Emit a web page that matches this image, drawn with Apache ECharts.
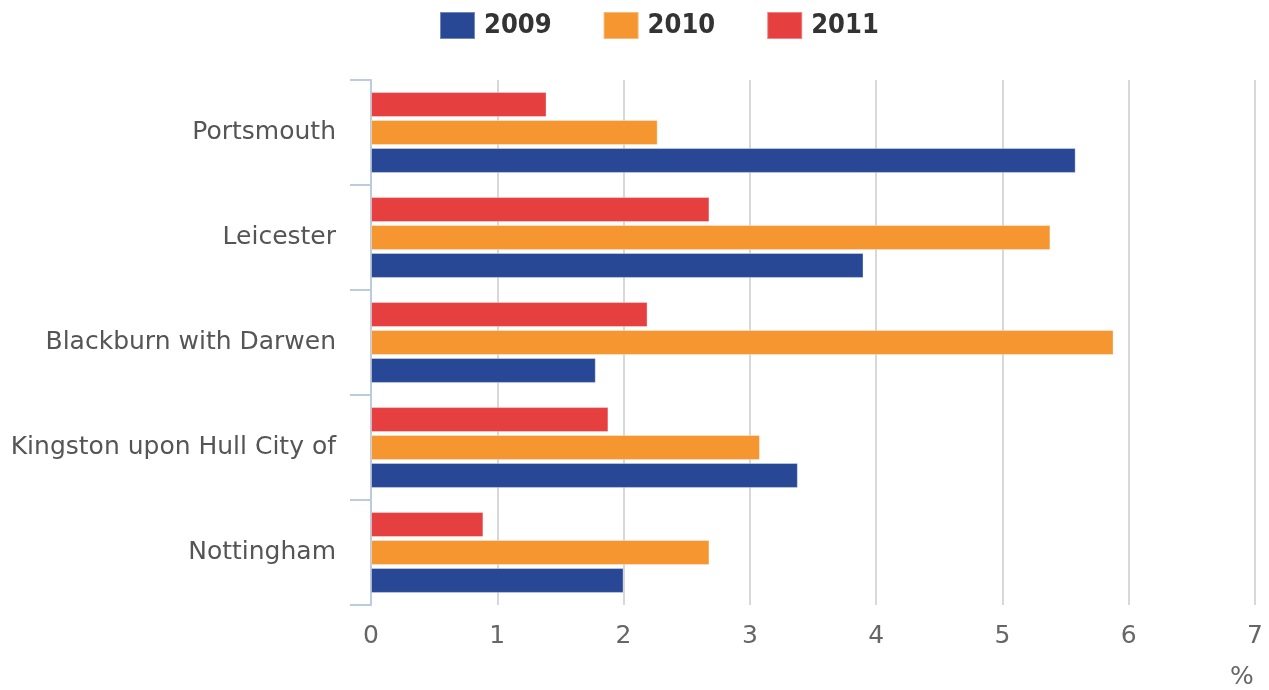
<!DOCTYPE html>
<html>
<head>
<meta charset="utf-8">
<script src="https://cdn.jsdelivr.net/npm/echarts@6/dist/echarts.min.js"></script>
<style>
  html, body { margin: 0; padding: 0; background: #fff; }
  #chart { width: 1269px; height: 690px; }
</style>
</head>
<body>
<div id="chart"></div>
<script>
// Local authorities, listed bottom-to-top as the category axis draws them
const areas = ['Nottingham', 'Kingston upon Hull City of', 'Blackburn with Darwen', 'Leicester', 'Portsmouth'];
const years = ['2009', '2010', '2011'];
// Percentages per year, in the same order as `areas`
const values2009 = [2.0, 3.38, 1.78, 3.9, 5.58];
const values2010 = [2.68, 3.08, 5.88, 5.38, 2.27];
const values2011 = [0.89, 1.88, 2.19, 2.68, 1.39];
const xTicks = { min: 0, max: 7, step: 1 };
const colors = { '2009': '#284896', '2010': '#f59630', '2011': '#e63f40' };

const font = 'DejaVu Sans, sans-serif';
const chart = echarts.init(document.getElementById('chart'), null, { renderer: 'canvas' });

const valuesByYear = { '2009': values2009, '2010': values2010, '2011': values2011 };
// Within each group the latest year sits on top, so series are added newest first
const drawOrder = ['2011', '2010', '2009'];

// Gridline at zero is darker than the rest
const gridColors = ['#7d7d7d', '#d8d8d8', '#d8d8d8', '#d8d8d8', '#d8d8d8', '#d8d8d8', '#d8d8d8', '#d8d8d8'];

chart.setOption({
  animation: false,
  textStyle: { fontFamily: font },
  legend: {
    data: years,
    left: 434,
    top: 6,
    itemWidth: 35,
    itemHeight: 27,
    itemGap: 51,
    icon: 'rect',
    textStyle: {
      fontFamily: '"DejaVu Sans Condensed", "DejaVu Sans", sans-serif',
      fontSize: 27, fontWeight: 'bold', color: '#333', padding: [0, 0, 0, 4]
    }
  },
  grid: { left: 371, right: 14, top: 80, bottom: 85, containLabel: false },
  xAxis: {
    type: 'value',
    min: xTicks.min,
    max: xTicks.max,
    interval: xTicks.step,
    axisLine: { show: false },
    axisTick: { show: false },
    splitLine: { show: true, lineStyle: { color: gridColors, width: 2 } },
    axisLabel: { fontFamily: font, fontSize: 25, color: '#666', margin: 19 }
  },
  yAxis: {
    type: 'category',
    data: areas,
    offset: 2,
    axisLine: { show: true, lineStyle: { color: '#bccbde', width: 2 } },
    axisTick: { show: true, length: 21, lineStyle: { color: '#bccbde', width: 2 } },
    axisLabel: { fontFamily: font, fontSize: 25, color: '#555', margin: 33 }
  },
  graphic: [{
    type: 'text',
    left: 1230,
    top: 665,
    style: { text: '%', font: '25px ' + font, fill: '#666' }
  }],
  series: drawOrder.map((y) => ({
    name: y,
    type: 'bar',
    data: valuesByYear[y],
    barGap: '12%',
    barCategoryGap: '23%',
    itemStyle: { color: colors[y], borderColor: 'rgba(255,255,255,0.35)', borderWidth: 1 }
  }))
});
</script>
</body>
</html>
